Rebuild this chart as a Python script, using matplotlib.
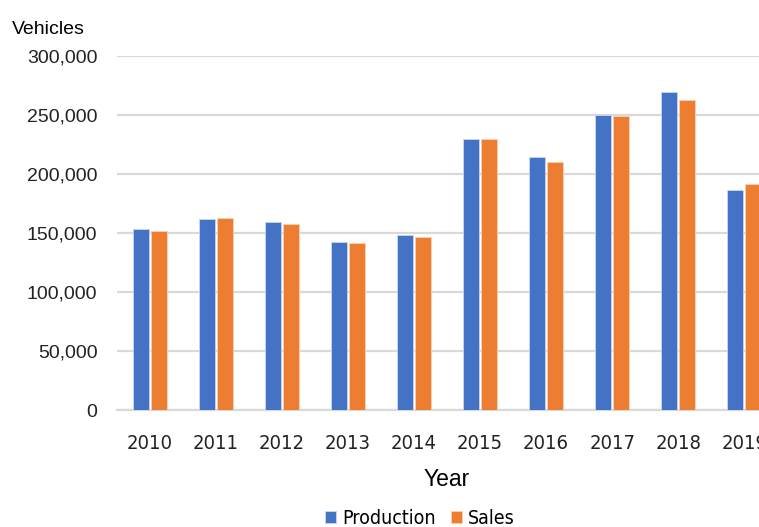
import matplotlib.pyplot as plt
import numpy as np
from matplotlib.ticker import FuncFormatter

years = ['2010', '2011', '2012', '2013', '2014', '2015', '2016', '2017', '2018', '2019']
production = [153000, 161600, 159300, 142400, 148600, 229400, 214100, 249700, 269200, 186200]
sales = [151700, 162400, 157300, 141300, 146400, 229400, 209900, 248900, 262700, 191500]

blue = '#4472C4'
orange = '#ED7D31'
plt.rcParams['font.family'] = ['Liberation Sans', 'DejaVu Sans']

fig = plt.figure(figsize=(7.59, 5.27), dpi=100)
# the original is cut off on the right, so the axes run past the figure edge
ax = fig.add_axes([0.154, 0.222, 0.870, 0.672])

x = np.arange(len(years))
w = 0.235
ax.bar(x - 0.136, production, w, color=blue, edgecolor='#c9d6ef', linewidth=0.6,
       label='Production', zorder=3)
ax.bar(x + 0.136, sales, w, color=orange, edgecolor='#f8d2b8', linewidth=0.6,
       label='Sales', zorder=3)

ax.set_xlim(-0.5, len(years) - 0.5)
ax.set_ylim(0, 300000)
ax.set_yticks(np.arange(0, 300001, 50000))
ax.yaxis.set_major_formatter(FuncFormatter(lambda v, p: f'{int(v):,}'))
ax.grid(axis='y', color='#d9d9d9', linewidth=1.6, zorder=0)
for s in ['top', 'right', 'left']:
    ax.spines[s].set_visible(False)
ax.spines['bottom'].set_color('#d9d9d9')
ax.spines['bottom'].set_linewidth(1.6)
ax.tick_params(axis='both', length=0)
ax.tick_params(axis='y', pad=14, labelsize=14, labelcolor='#222222')
ax.set_xticks(x)
ax.set_xticklabels(years, fontsize=14.5, fontfamily='DejaVu Sans', fontstretch='condensed',
                   color='#222222')
ax.tick_params(axis='x', pad=17)

fig.text(0.016, 0.936, 'Vehicles', fontsize=14, ha='left', va='baseline')
fig.text(0.588, 0.091, 'Year', fontsize=16.5, ha='center', va='center')

leg = fig.legend(loc='center', bbox_to_anchor=(0.553, 0.016), ncol=2, frameon=False,
                 handlelength=0.55, handleheight=0.6, handletextpad=0.3,
                 columnspacing=0.8,
                 prop={'family': 'DejaVu Sans', 'stretch': 'condensed', 'size': 14})

fig.savefig('out.png', dpi=100)
